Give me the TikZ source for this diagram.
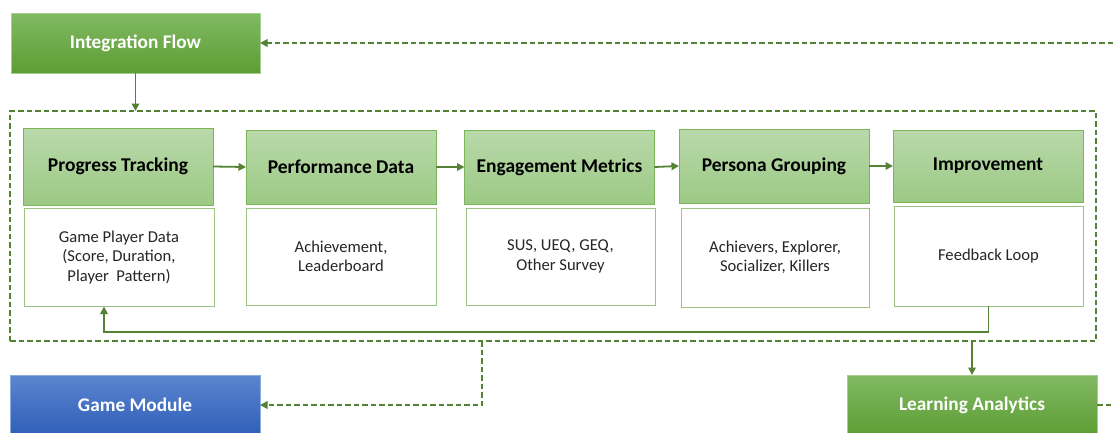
\documentclass[tikz,border=0pt]{standalone}
\usepackage{fontspec}
\setmainfont{Carlito}
\usetikzlibrary{arrows.meta}

\definecolor{flowline}{HTML}{548235}
\definecolor{hdrtop}{HTML}{B9D9AA}
\definecolor{hdrbot}{HTML}{9CC985}
\definecolor{hdredge}{HTML}{7DB65A}
\definecolor{bodyedge}{HTML}{9CC384}
\definecolor{gtop}{HTML}{80B963}
\definecolor{gbot}{HTML}{5E9D34}
\definecolor{btop}{HTML}{5C85CF}
\definecolor{bbot}{HTML}{2F5FB9}
\definecolor{bodytext}{HTML}{262626}

\tikzset{
  hdr/.style={draw=hdredge, line width=0.9pt, top color=hdrtop, bottom color=hdrbot,
    minimum width=190pt, minimum height=75pt, inner sep=2pt, outer sep=0pt,
    font=\fontsize{19.5}{23}\selectfont\bfseries, text=black},
  body/.style={draw=bodyedge, line width=0.9pt, fill=white,
    minimum width=190pt, minimum height=98pt, inner sep=2pt, outer sep=0pt,
    align=center, font=\fontsize{16.6}{19.5}\selectfont, text=bodytext},
  greenbox/.style={top color=gtop, bottom color=gbot, draw=gtop!70!white, line width=0.6pt,
    minimum width=249pt, minimum height=60pt, outer sep=0pt,
    font=\fontsize{19.3}{23}\selectfont\bfseries, text=white},
  bluebox/.style={top color=btop, bottom color=bbot, draw=btop!70!white, line width=0.6pt,
    minimum width=250pt, minimum height=60pt, outer sep=0pt,
    font=\fontsize{19.3}{23}\selectfont\bfseries, text=white},
  frame/.style={draw=flowline, line width=1.8pt, dash pattern=on 5.5pt off 3pt,
    minimum width=1086pt, minimum height=230pt, outer sep=0pt},
  arr/.style={draw=flowline, line width=1.8pt, -{Triangle[length=7.5pt,width=7.5pt]}},
  dasharr/.style={draw=flowline, line width=1.8pt, dash pattern=on 5.5pt off 3pt,
    -{Triangle[length=7.5pt,width=7.5pt]}},
  dashline/.style={draw=flowline, line width=1.8pt, dash pattern=on 5.5pt off 3pt},
}

\begin{document}
\begin{tikzpicture}[x=1pt,y=-1pt]
\useasboundingbox (0,0) rectangle (1113,432);

% outer process frame
\node[frame] (cont) at (553,226) {};

% top and bottom module boxes
\node[greenbox] (IF) at (135.5,43) {Integration Flow};
\node[bluebox] (GM) at (135,405) {Game Module};
\node[greenbox, minimum width=250pt] (LA) at (972,405) {Learning Analytics};

% stage headers
\node[hdr, minimum height=77pt] (h1) at (118,166.5) {Progress Tracking};
\node[hdr, minimum height=74pt] (h2) at (341,167) {Performance Data};
\node[hdr, minimum height=74pt] (h3) at (559.5,167) {Engagement Metrics};
\node[hdr, minimum height=74pt] (h4) at (774,166) {Persona Grouping};
\node[hdr, minimum height=72pt] (h5) at (988,166) {Improvement};

% stage details
\node[body] (b1) at (119,257.5) {Game Player Data\\(Score, Duration,\\Player\ \ Pattern)};
\node[body, minimum height=97pt] (b2) at (341,256.5) {Achievement,\\Leaderboard};
\node[body, minimum width=189pt, minimum height=97pt] (b3) at (560.5,256.5) {SUS, UEQ, GEQ,\\Other Survey};
\node[body, minimum width=188pt, minimum height=99pt] (b4) at (775,257.5) {Achievers, Explorer,\\Socializer, Killers};
\node[body, minimum width=189pt, minimum height=100pt] (b5) at (988.5,256) {Feedback Loop};

% free ends and bends
\coordinate (fb) at (104,332);
\coordinate (gmturn) at (482,0);
\coordinate (edgeT) at (1113,43);
\coordinate (edgeR) at (1113,405);

% connectors
\draw[arr] (IF.south) -- (IF.south |- cont.north);
\draw[arr] (h1.east) -- (h2.west);
\draw[arr] (h2.east) -- (h3.west);
\draw[arr] (h3.east) -- (h4.west);
\draw[arr] (h4.east) -- (h5.west);
\draw[arr] (b5.south) |- (fb) -- (fb |- b1.south);
\draw[dasharr] (gmturn |- cont.south) |- (GM.east);
\draw[arr] (LA.north |- cont.south) -- (LA.north);
\draw[dashline] (LA.east) -- (edgeR);
\draw[dasharr] (edgeT) -- (IF.east);
\end{tikzpicture}
\end{document}
